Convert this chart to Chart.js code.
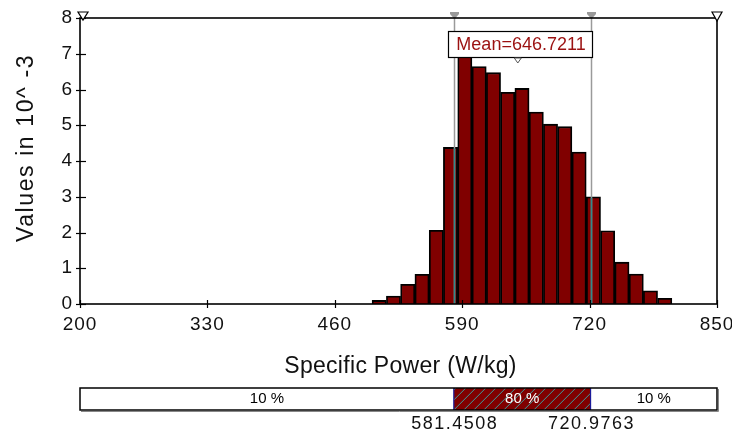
<!DOCTYPE html>
<html>
<head>
<meta charset="utf-8">
<script src="https://cdn.jsdelivr.net/npm/chart.js@4/dist/chart.umd.min.js"></script>
<style>
  html, body { margin: 0; padding: 0; background: #ffffff; }
  #wrap { width: 732px; height: 435px; position: relative; }
</style>
</head>
<body>
<div id="wrap"><canvas id="c" width="732" height="435"></canvas></div>
<script>
// ---- data ----
const binCenters = [505.3, 519.9, 534.4, 549.0, 563.6, 578.1, 592.7, 607.3, 621.9, 636.4, 651.0,
                    665.6, 680.1, 694.7, 709.3, 723.9, 738.4, 753.0, 767.6, 782.1, 796.7];
const densities  = [0.10, 0.22, 0.55, 0.83, 2.06, 4.38, 7.10, 6.64, 6.47, 5.92, 6.03,
                    5.37, 5.03, 4.96, 4.25, 3.00, 2.05, 1.17, 0.84, 0.37, 0.16];
const xTickValues = [200, 330, 460, 590, 720, 850];
const yTickValues = [0, 1, 2, 3, 4, 5, 6, 7, 8];
const lowerBound = 581.4508;
const upperBound = 720.9763;
const meanValue = 646.7211;
const bandLabels = ['10 %', '80 %', '10 %'];
const xTitle = 'Specific Power (W/kg)';
const yTitle = 'Values in 10^ -3';

const FONT = '"Liberation Sans", Arial, sans-serif';

const spacing = {
  id: 'spacing',
  beforeDraw(chart) { chart.ctx.letterSpacing = '1px'; }
};

const overlay = {
  id: 'overlay',
  afterDatasetsDraw(chart) {
    const ctx = chart.ctx;
    const xs = chart.scales.x, ys = chart.scales.y;
    const ca = chart.chartArea;
    const L = ca.left, R = ca.right, T = ca.top, B = ca.bottom;
    ctx.save();

    // bound lines
    const meta = chart.getDatasetMeta(0);
    [lowerBound, upperBound].forEach(v => {
      const px = Math.round(xs.getPixelForValue(v)) + 0.5;
      ctx.strokeStyle = '#9a9a9a';
      ctx.lineWidth = 1.5;
      ctx.beginPath(); ctx.moveTo(px, T); ctx.lineTo(px, B); ctx.stroke();
      meta.data.forEach(el => {
        const hw = el.width / 2;
        if (px >= el.x - hw && px <= el.x + hw) {
          ctx.strokeStyle = '#2f8a8a';
          ctx.beginPath(); ctx.moveTo(px, el.y + 1); ctx.lineTo(px, B); ctx.stroke();
        }
      });
      ctx.fillStyle = '#9a9a9a';
      ctx.beginPath();
      ctx.moveTo(px - 4.5, T - 6); ctx.lineTo(px + 4.5, T - 6);
      ctx.lineTo(px + 4.5, T - 4); ctx.lineTo(px + 1, T);
      ctx.lineTo(px - 1, T); ctx.lineTo(px - 4.5, T - 4);
      ctx.closePath(); ctx.fill();
    });

    // frame
    ctx.strokeStyle = '#000';
    ctx.lineWidth = 1.6;
    ctx.strokeRect(L, T, R - L, B - T);

    // ticks
    ctx.lineWidth = 1.2;
    yTickValues.forEach(v => {
      const py = Math.round(ys.getPixelForValue(v)) + 0.5;
      ctx.beginPath(); ctx.moveTo(L - 4, py); ctx.lineTo(L + 6, py); ctx.stroke();
    });
    xTickValues.forEach(v => {
      const px = Math.round(xs.getPixelForValue(v)) + 0.5;
      ctx.beginPath(); ctx.moveTo(px, B - 4); ctx.lineTo(px, B + 4); ctx.stroke();
    });

    // hollow corner markers
    function hollowTri(px, py, w, h) {
      ctx.fillStyle = '#fff';
      ctx.strokeStyle = '#000';
      ctx.lineWidth = 1.2;
      ctx.beginPath();
      ctx.moveTo(px - w / 2, py); ctx.lineTo(px + w / 2, py);
      ctx.lineTo(px, py + h); ctx.closePath();
      ctx.fill(); ctx.stroke();
    }
    hollowTri(xs.getPixelForValue(200) + 3, T - 6, 10, 8);
    hollowTri(xs.getPixelForValue(850), T - 6, 10, 9);

    // mean label
    const mx = xs.getPixelForValue(meanValue);
    const bx0 = 448, bx1 = 592, by0 = 31, by1 = 57;
    ctx.fillStyle = '#fff';
    ctx.fillRect(bx0, by0, bx1 - bx0, by1 - by0);
    ctx.strokeStyle = '#000';
    ctx.lineWidth = 1.2;
    ctx.strokeRect(bx0 + 0.5, by0 + 0.5, bx1 - bx0, by1 - by0);
    ctx.fillStyle = '#9b1111';
    ctx.font = '18px ' + FONT;
    ctx.letterSpacing = '0px';
    ctx.textAlign = 'center';
    ctx.textBaseline = 'middle';
    ctx.fillText('Mean=' + meanValue.toFixed(4), (bx0 + bx1) / 2 + 1, (by0 + by1) / 2 + 1);
    ctx.fillStyle = '#fff';
    ctx.strokeStyle = '#555';
    ctx.lineWidth = 1;
    ctx.beginPath();
    ctx.moveTo(mx - 3.5, by1 + 1); ctx.lineTo(mx + 3.5, by1 + 1); ctx.lineTo(mx, by1 + 6); ctx.closePath();
    ctx.fill(); ctx.stroke();

    // axis titles
    ctx.fillStyle = '#111';
    ctx.font = '23px ' + FONT;
    ctx.letterSpacing = '0.3px';
    ctx.fillText(xTitle, (L + R) / 2 + 2, 367);
    ctx.save();
    ctx.translate(27, 148);
    ctx.rotate(-Math.PI / 2);
    ctx.letterSpacing = '1.6px';
    ctx.fillText(yTitle, 0, 0);
    ctx.restore();

    // bottom band
    const bT = 388, bB = 410;
    const lo = xs.getPixelForValue(lowerBound), hi = xs.getPixelForValue(upperBound);
    ctx.fillStyle = '#fff';
    ctx.fillRect(L, bT, R - L, bB - bT);
    ctx.fillStyle = '#800000';
    ctx.fillRect(lo, bT, hi - lo, bB - bT);
    ctx.save();
    ctx.beginPath(); ctx.rect(lo, bT, hi - lo, bB - bT); ctx.clip();
    ctx.strokeStyle = '#3f9a9a';
    ctx.lineWidth = 1;
    for (let x = lo - 30; x < hi + 30; x += 10) {
      ctx.beginPath(); ctx.moveTo(x, bB); ctx.lineTo(x + 22, bT); ctx.stroke();
    }
    ctx.restore();
    ctx.strokeStyle = '#1a1a9a';
    ctx.lineWidth = 1.2;
    ctx.beginPath(); ctx.moveTo(lo, bT); ctx.lineTo(lo, bB); ctx.moveTo(hi, bT); ctx.lineTo(hi, bB); ctx.stroke();
    ctx.strokeStyle = '#000';
    ctx.lineWidth = 1.5;
    ctx.strokeRect(L, bT, R - L, bB - bT);
    ctx.strokeStyle = '#888';
    ctx.lineWidth = 1;
    ctx.beginPath(); ctx.moveTo(L + 1, bB + 1.5); ctx.lineTo(R + 1.5, bB + 1.5); ctx.lineTo(R + 1.5, bT + 1); ctx.stroke();

    ctx.font = '15px ' + FONT;
    ctx.letterSpacing = '0px';
    ctx.textBaseline = 'middle';
    ctx.textAlign = 'center';
    ctx.fillStyle = '#000';
    ctx.fillText(bandLabels[0], (L + lo) / 2, (bT + bB) / 2);
    ctx.fillStyle = '#fff';
    ctx.fillText(bandLabels[1], (lo + hi) / 2, (bT + bB) / 2);
    ctx.fillStyle = '#000';
    ctx.fillText(bandLabels[2], (hi + R) / 2, (bT + bB) / 2);

    ctx.font = '18px ' + FONT;
    ctx.letterSpacing = '1.5px';
    ctx.fillStyle = '#111';
    ctx.fillText(lowerBound.toFixed(4), lo + 1, 424);
    ctx.fillText(upperBound.toFixed(4), hi + 1, 424);

    ctx.restore();
  }
};

new Chart(document.getElementById('c'), {
  type: 'bar',
  data: {
    datasets: [{
      data: binCenters.map((x, i) => ({ x: x, y: densities[i] })),
      backgroundColor: '#800000',
      borderColor: '#000000',
      borderWidth: 1.8,
      barPercentage: 1.0,
      categoryPercentage: 1.0
    }]
  },
  options: {
    responsive: false,
    animation: false,
    events: [],
    layout: { padding: { top: 18, right: 15, left: 0, bottom: 0 } },
    plugins: { legend: { display: false }, tooltip: { enabled: false } },
    scales: {
      x: {
        type: 'linear',
        min: 200, max: 850,
        offset: false,
        afterBuildTicks: s => { s.ticks = xTickValues.map(v => ({ value: v })); },
        afterFit: s => { s.height = 131; s.paddingLeft = 0; s.paddingRight = 0; },
        grid: { display: false, drawTicks: false },
        border: { display: false },
        ticks: { color: '#111', padding: 9, maxRotation: 0, autoSkip: false,
                 font: { family: FONT, size: 19 }, callback: v => String(v) }
      },
      y: {
        min: 0, max: 8,
        afterBuildTicks: s => { s.ticks = yTickValues.map(v => ({ value: v })); },
        afterFit: s => { s.width = 80; s.paddingTop = 0; s.paddingBottom = 0; },
        grid: { display: false, drawTicks: false },
        border: { display: false },
        ticks: { color: '#111', padding: 7, font: { family: FONT, size: 19 },
                 callback: v => String(v) }
      }
    }
  },
  plugins: [spacing, overlay]
});
</script>
</body>
</html>
